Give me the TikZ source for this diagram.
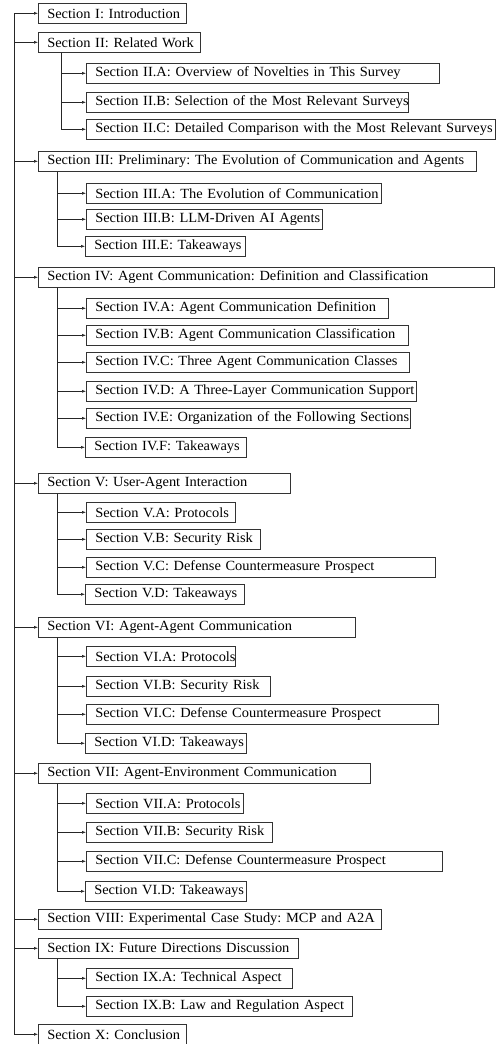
\documentclass[tikz,border=0pt]{standalone}
\usepackage{fontspec}
\setmainfont{Liberation Serif}[FakeStretch=1.03]
\usetikzlibrary{arrows.meta}
\frenchspacing

\tikzset{
    sec/.style={draw=black!80, line width=0.6pt, anchor=north west, minimum height=20pt,
        inner xsep=9pt, inner ysep=0pt, text width=#1, align=left, font=\fontsize{14}{16}\selectfont},
    arr/.style={-{Latex[length=4pt,width=3pt]}, line width=0.6pt, black!85},
}
\newcommand{\nb}[1]{\mbox{#1}}

\begin{document}
\begin{tikzpicture}[x=1pt, y=-1pt]
    \useasboundingbox (0,0) rectangle (499,1044);

    % main sections
    \node[sec=130] (s1) at (38,3) {\nb{Section I: Introduction}};
    \node[sec=144] (s2) at (38,32) {\nb{Section II: Related Work}};
    \node[sec=420] (s3) at (38,151) {\nb{Section III: Preliminary: The Evolution of Communication and Agents}};
    \node[sec=438] (s4) at (38,267) {\nb{Section IV: Agent Communication: Definition and Classification}};
    \node[sec=234] (s5) at (38,473) {\nb{Section V: User-Agent Interaction}};
    \node[sec=299] (s6) at (38,617) {\nb{Section VI: Agent-Agent Communication}};
    \node[sec=314] (s7) at (38,763) {\nb{Section VII: Agent-Environment Communication}};
    \node[sec=325] (s8) at (38,909) {\nb{Section VIII: Experimental Case Study: MCP and A2A}};
    \node[sec=242] (s9) at (38,938) {\nb{Section IX: Future Directions Discussion}};
    \node[sec=130] (s10) at (38,1024) {\nb{Section X: Conclusion}};

    % subsections
    \node[sec=335] (s2a) at (86,63) {\nb{Section II.A: Overview of Novelties in This Survey}};
    \node[sec=304] (s2b) at (86,92) {\nb{Section II.B: Selection of the Most Relevant Surveys}};
    \node[sec=391] (s2c) at (86,119) {\nb{Section II.C: Detailed Comparison with the Most Relevant Surveys}};

    \node[sec=277] (s3a) at (86,183) {\nb{Section III.A: The Evolution of Communication}};
    \node[sec=218] (s3b) at (86,209) {\nb{Section III.B: LLM-Driven AI Agents}};
    \node[sec=142] (s3e) at (85,236) {\nb{Section III.E: Takeaways}};

    \node[sec=284] (s4a) at (86,298) {\nb{Section IV.A: Agent Communication Definition}};
    \node[sec=304] (s4b) at (86,325) {\nb{Section IV.B: Agent Communication Classification}};
    \node[sec=305] (s4c) at (86,352) {\nb{Section IV.C: Three Agent Communication Classes}};
    \node[sec=312] (s4d) at (86,381) {\nb{Section IV.D: A Three-Layer Communication Support}};
    \node[sec=306] (s4e) at (86,408) {\nb{Section IV.E: Organization of the Following Sections}};
    \node[sec=143] (s4f) at (85,437) {\nb{Section IV.F: Takeaways}};

    \node[sec=131] (s5a) at (86,502) {\nb{Section V.A: Protocols}};
    \node[sec=156] (s5b) at (86,529) {\nb{Section V.B: Security Risk}};
    \node[sec=331] (s5c) at (86,557) {\nb{Section V.C: Defense Countermeasure Prospect}};
    \node[sec=141] (s5d) at (85,584) {\nb{Section V.D: Takeaways}};

    \node[sec=131] (s6a) at (86,646) {\nb{Section VI.A: Protocols}};
    \node[sec=166] (s6b) at (86,676) {\nb{Section VI.B: Security Risk}};
    \node[sec=334] (s6c) at (86,704) {\nb{Section VI.C: Defense Countermeasure Prospect}};
    \node[sec=143] (s6d) at (85,733) {\nb{Section VI.D: Takeaways}};

    \node[sec=139] (s7a) at (86,793) {\nb{Section VII.A: Protocols}};
    \node[sec=168] (s7b) at (86,822) {\nb{Section VII.B: Security Risk}};
    \node[sec=338] (s7c) at (86,851) {\nb{Section VII.C: Defense Countermeasure Prospect}};
    \node[sec=143] (s7d) at (85,881) {\nb{Section VI.D: Takeaways}};

    \node[sec=188] (s9a) at (86,968) {\nb{Section IX.A: Technical Aspect}};
    \node[sec=248] (s9b) at (86,996) {\nb{Section IX.B: Law and Regulation Aspect}};

    % trunk
    \coordinate (trunk) at (14,13);
    \draw[line width=0.6pt, black!85] (trunk) -- (trunk |- s10.west);
    \foreach \n in {s1,s2,s3,s4,s5,s6,s7,s8,s9,s10}
        \draw[arr] (trunk |- \n.west) -- (\n.west);

    % branches
    \foreach \n in {s2a,s2b,s2c}
        \draw[arr] ([xshift=23pt]s2.south west) |- (\n.west);
    \foreach \n in {s3a,s3b,s3e}
        \draw[arr] ([xshift=19pt]s3.south west) |- (\n.west);
    \foreach \n in {s4a,s4b,s4c,s4d,s4e,s4f}
        \draw[arr] ([xshift=19pt]s4.south west) |- (\n.west);
    \foreach \n in {s5a,s5b,s5c,s5d}
        \draw[arr] ([xshift=19pt]s5.south west) |- (\n.west);
    \foreach \n in {s6a,s6b,s6c,s6d}
        \draw[arr] ([xshift=19pt]s6.south west) |- (\n.west);
    \foreach \n in {s7a,s7b,s7c,s7d}
        \draw[arr] ([xshift=19pt]s7.south west) |- (\n.west);
    \foreach \n in {s9a,s9b}
        \draw[arr] ([xshift=19pt]s9.south west) |- (\n.west);
\end{tikzpicture}
\end{document}
